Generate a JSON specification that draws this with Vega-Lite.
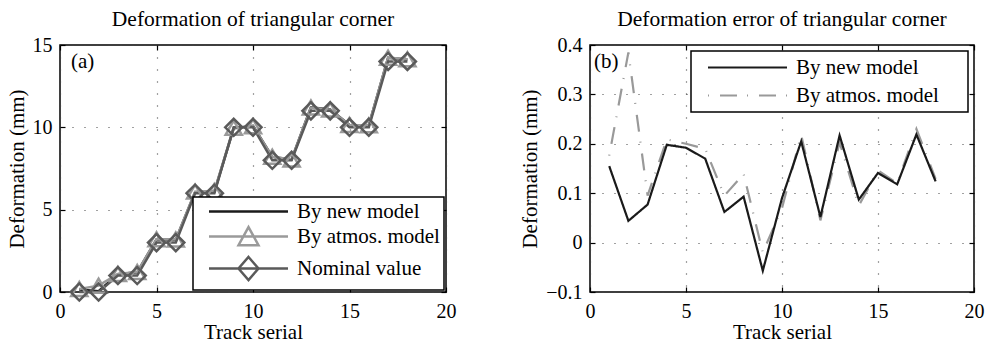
{
  "$schema": "https://vega.github.io/schema/vega-lite/v6.json",
  "background": "white",
  "padding": {"left": 5, "top": 7, "right": 2, "bottom": 0},
  "datasets": {
    "left": [
      {"track": 1, "By new model": 0.155, "By atmos. model": 0.176, "Nominal value": 0},
      {"track": 2, "By new model": 0.044, "By atmos. model": 0.385, "Nominal value": 0},
      {"track": 3, "By new model": 1.077, "By atmos. model": 1.095, "Nominal value": 1},
      {"track": 4, "By new model": 1.198, "By atmos. model": 1.209, "Nominal value": 1},
      {"track": 5, "By new model": 3.192, "By atmos. model": 3.2, "Nominal value": 3},
      {"track": 6, "By new model": 3.17, "By atmos. model": 3.19, "Nominal value": 3},
      {"track": 7, "By new model": 6.062, "By atmos. model": 6.095, "Nominal value": 6},
      {"track": 8, "By new model": 6.093, "By atmos. model": 6.139, "Nominal value": 6},
      {"track": 9, "By new model": 9.943, "By atmos. model": 9.98, "Nominal value": 10},
      {"track": 10, "By new model": 10.09, "By atmos. model": 10.07, "Nominal value": 10},
      {"track": 11, "By new model": 8.205, "By atmos. model": 8.218, "Nominal value": 8},
      {"track": 12, "By new model": 8.052, "By atmos. model": 8.045, "Nominal value": 8},
      {"track": 13, "By new model": 11.217, "By atmos. model": 11.203, "Nominal value": 11},
      {"track": 14, "By new model": 11.087, "By atmos. model": 11.075, "Nominal value": 11},
      {"track": 15, "By new model": 10.141, "By atmos. model": 10.146, "Nominal value": 10},
      {"track": 16, "By new model": 10.118, "By atmos. model": 10.12, "Nominal value": 10},
      {"track": 17, "By new model": 14.219, "By atmos. model": 14.23, "Nominal value": 14},
      {"track": 18, "By new model": 14.124, "By atmos. model": 14.129, "Nominal value": 14}
    ],
    "right": [
      {"track": 1, "By new model": 0.155, "By atmos. model": 0.176},
      {"track": 2, "By new model": 0.044, "By atmos. model": 0.385},
      {"track": 3, "By new model": 0.077, "By atmos. model": 0.095},
      {"track": 4, "By new model": 0.198, "By atmos. model": 0.209},
      {"track": 5, "By new model": 0.192, "By atmos. model": 0.2},
      {"track": 6, "By new model": 0.17, "By atmos. model": 0.19},
      {"track": 7, "By new model": 0.062, "By atmos. model": 0.095},
      {"track": 8, "By new model": 0.093, "By atmos. model": 0.139},
      {"track": 9, "By new model": -0.057, "By atmos. model": -0.02},
      {"track": 10, "By new model": 0.09, "By atmos. model": 0.07},
      {"track": 11, "By new model": 0.205, "By atmos. model": 0.218},
      {"track": 12, "By new model": 0.052, "By atmos. model": 0.045},
      {"track": 13, "By new model": 0.217, "By atmos. model": 0.203},
      {"track": 14, "By new model": 0.087, "By atmos. model": 0.075},
      {"track": 15, "By new model": 0.141, "By atmos. model": 0.146},
      {"track": 16, "By new model": 0.118, "By atmos. model": 0.12},
      {"track": 17, "By new model": 0.219, "By atmos. model": 0.23},
      {"track": 18, "By new model": 0.124, "By atmos. model": 0.129}
    ]
  },
  "config": {
    "font": "Liberation Serif",
    "view": {"stroke": "black", "strokeWidth": 1.5},
    "axis": {
      "labelFont": "Liberation Serif", "labelFontSize": 20, "labelColor": "black",
      "titleFont": "Liberation Serif", "titleFontSize": 21, "titleFontWeight": "normal", "titleColor": "black",
      "tickColor": "black", "tickSize": 5, "tickWidth": 1.2, "domain": false,
      "gridColor": "#444444", "gridDash": [1, 11], "gridWidth": 1.2, "gridOpacity": 1,
      "labelFlush": false, "labelOverlap": false
    },
    "axisX": {"labelPadding": 9, "titlePadding": 0},
    "axisY": {"labelPadding": 8, "titlePadding": 5},
    "title": {"font": "Liberation Serif", "fontSize": 21.5, "fontWeight": "normal", "color": "black", "offset": 5, "anchor": "middle", "frame": "group"}
  },
  "resolve": {
    "scale": {"stroke": "independent", "strokeDash": "independent"},
    "legend": {"stroke": "independent", "strokeDash": "independent"}
  },
  "spacing": 61,
  "hconcat": [
    {
      "width": 386, "height": 247,
      "title": "Deformation of triangular corner",
      "layer": [
        {
          "data": {"name": "left"},
          "transform": [{"fold": ["By new model", "By atmos\\. model", "Nominal value"], "as": ["series", "value"]}],
          "mark": {"type": "line", "strokeWidth": 2.5},
          "encoding": {
            "x": {"field": "track", "type": "quantitative", "scale": {"domain": [0, 20], "nice": false}, "axis": {"values": [0, 5, 10, 15, 20], "title": "Track serial", "grid": true, "ticks": false}},
            "y": {"field": "value", "type": "quantitative", "scale": {"domain": [0, 15], "nice": false, "zero": false}, "axis": {"values": [0, 5, 10, 15], "title": "Deformation (mm)", "grid": true, "ticks": false}},
            "stroke": {
              "field": "series", "type": "nominal",
              "scale": {"domain": ["By new model", "By atmos. model", "Nominal value"], "range": ["#1a1a1a", "#9a9a9a", "#5a5a5a"]},
              "legend": {
                "title": null, "orient": "bottom-right", "offset": 2, "padding": 4,
                "strokeColor": "black", "fillColor": "white",
                "symbolSize": 324, "symbolStrokeWidth": 2.5, "symbolOffset": 0, "labelOffset": 79, "rowPadding": 0,
                "labelFont": "Liberation Serif", "labelFontSize": 21, "labelColor": "black", "labelLimit": 300,
                "encode": {
                  "legend": {"update": {"strokeWidth": {"value": 1.5}}},
                  "symbols": {"update": {
                    "shape": {"signal": "datum.value === 'By atmos. model' ? 'M0.167,0L8.944,0M4.556,-1.05L5.666,0.97L3.446,0.97Z' : datum.value === 'Nominal value' ? 'M0.167,0L8.944,0M4.556,-1.28L5.666,0L4.556,1.28L3.446,0Z' : 'M0.167,0L8.944,0'"},
                    "fill": {"value": "transparent"}
                  }}
                }
              }
            }
          }
        },
        {
          "data": {"name": "left"},
          "mark": {"type": "point", "shape": "triangle-up", "filled": false, "stroke": "#9a9a9a", "strokeWidth": 2.5, "size": 260, "opacity": 1},
          "encoding": {
            "x": {"field": "track", "type": "quantitative", "axis": {"orient": "top", "offset": -5, "labels": false, "title": null, "grid": false, "values": [0, 5, 10, 15, 20]}},
            "y": {"field": "By atmos\\. model", "type": "quantitative", "axis": null}
          }
        },
        {
          "data": {"name": "left"},
          "mark": {"type": "point", "shape": "diamond", "filled": false, "stroke": "#5a5a5a", "strokeWidth": 2.5, "size": 290, "opacity": 1},
          "encoding": {
            "x": {"field": "track", "type": "quantitative", "axis": null},
            "y": {"field": "Nominal value", "type": "quantitative", "axis": {"orient": "right", "offset": -5, "labels": false, "title": null, "grid": false, "values": [0, 5, 10, 15]}}
          }
        },
        {
          "data": {"values": [{}]},
          "mark": {"type": "text", "text": "(a)", "align": "left", "baseline": "middle", "dx": 11, "dy": 17, "font": "Liberation Serif", "fontSize": 21, "color": "black"},
          "encoding": {
            "x": {"datum": 0, "type": "quantitative", "axis": {"orient": "bottom", "offset": -5, "labels": false, "title": null, "grid": false, "values": [0, 5, 10, 15, 20]}},
            "y": {"datum": 15, "type": "quantitative", "axis": {"orient": "left", "offset": -5, "labels": false, "title": null, "grid": false, "values": [0, 5, 10, 15]}}
          }
        }
      ]
    },
    {
      "width": 384, "height": 247,
      "title": "Deformation error of triangular corner",
      "layer": [
        {
          "data": {"name": "right"},
          "transform": [{"fold": ["By atmos\\. model", "By new model"], "as": ["series", "value"]}],
          "mark": {"type": "line", "strokeWidth": 2.2},
          "encoding": {
            "x": {"field": "track", "type": "quantitative", "scale": {"domain": [0, 20], "nice": false}, "axis": {"values": [0, 5, 10, 15, 20], "title": "Track serial", "grid": true, "ticks": false}},
            "y": {"field": "value", "type": "quantitative", "scale": {"domain": [-0.1, 0.4], "nice": false, "zero": false}, "axis": {"values": [-0.1, 0, 0.1, 0.2, 0.3, 0.4], "format": ".1~f", "title": "Deformation (mm)", "grid": true, "ticks": false}},
            "stroke": {
              "field": "series", "type": "nominal",
              "scale": {"domain": ["By new model", "By atmos. model"], "range": ["#1a1a1a", "#999999"]},
              "legend": {
                "title": null, "orient": "top-right", "offset": 6, "padding": 6,
                "strokeColor": "black", "fillColor": "white",
                "symbolSize": 324, "symbolStrokeWidth": 2.2, "symbolOffset": 0, "labelOffset": 78, "rowPadding": 6,
                "labelFont": "Liberation Serif", "labelFontSize": 21, "labelColor": "black", "labelLimit": 300,
                "encode": {
                  "legend": {"update": {"strokeWidth": {"value": 1.5}}},
                  "symbols": {"update": {"shape": {"value": "M0.056,0L8.833,0M27.71,0"}}}
                }
              }
            },
            "strokeDash": {
              "field": "series", "type": "nominal",
              "scale": {"domain": ["By new model", "By atmos. model"], "range": [[1, 0], [1, 11, 17, 10]]},
              "legend": {
                "title": null, "orient": "top-right", "offset": 6, "padding": 6,
                "strokeColor": "black", "fillColor": "white",
                "symbolSize": 324, "symbolStrokeWidth": 2.2, "symbolOffset": 0, "labelOffset": 78, "rowPadding": 6,
                "labelFont": "Liberation Serif", "labelFontSize": 21, "labelColor": "black", "labelLimit": 300,
                "encode": {
                  "legend": {"update": {"strokeWidth": {"value": 1.5}}},
                  "symbols": {"update": {"shape": {"value": "M0.056,0L8.833,0M27.71,0"}}}
                }
              }
            }
          }
        },
        {
          "data": {"values": [{}]},
          "mark": {"type": "text", "text": "(b)", "align": "left", "baseline": "middle", "dx": 4, "dy": 17, "font": "Liberation Serif", "fontSize": 21, "color": "black"},
          "encoding": {
            "x": {"datum": 0, "type": "quantitative", "axis": {"orient": "top", "offset": -5, "labels": false, "title": null, "grid": false, "values": [0, 5, 10, 15, 20]}},
            "y": {"datum": 0.4, "type": "quantitative", "axis": {"orient": "right", "offset": -5, "labels": false, "title": null, "grid": false, "values": [-0.1, 0, 0.1, 0.2, 0.3, 0.4]}}
          }
        },
        {
          "data": {"values": [{}]},
          "mark": {"type": "text", "text": ""},
          "encoding": {
            "x": {"datum": 0, "type": "quantitative", "axis": {"orient": "bottom", "offset": -5, "labels": false, "title": null, "grid": false, "values": [0, 5, 10, 15, 20]}},
            "y": {"datum": 0.4, "type": "quantitative", "axis": {"orient": "left", "offset": -5, "labels": false, "title": null, "grid": false, "values": [-0.1, 0, 0.1, 0.2, 0.3, 0.4]}}
          }
        }
      ]
    }
  ]
}
